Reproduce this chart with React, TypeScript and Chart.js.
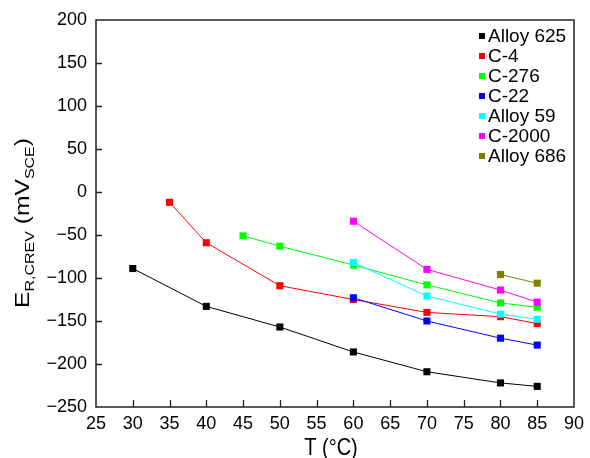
import React, { useEffect, useRef } from "react";
import { Chart, registerables } from "chart.js";

Chart.register(...registerables);

const FONT = "'Liberation Sans', Arial, Helvetica, sans-serif";

// Series (temperature in °C, E_R,CREV in mV_SCE)
const seriesNames = ["Alloy 625", "C-4", "C-276", "C-22", "Alloy 59", "C-2000", "Alloy 686"];
const seriesColors = ["#000000", "#ff0000", "#00ff00", "#0000ff", "#00ffff", "#ff00ff", "#808000"];

const tAlloy625 = [30, 40, 50, 60, 70, 80, 85];
const eAlloy625 = [-89, -133, -157, -186, -209, -222, -226];

const tC4 = [35, 40, 50, 60, 70, 80, 85];
const eC4 = [-12, -59, -109, -125, -140, -145, -153];

const tC276 = [45, 50, 60, 70, 80, 85];
const eC276 = [-51, -63, -85, -108, -129, -134];

const tC22 = [60, 70, 80, 85];
const eC22 = [-123, -150, -170, -178];

const tAlloy59 = [60, 70, 80, 85];
const eAlloy59 = [-82, -121, -142, -148];

const tC2000 = [60, 70, 80, 85];
const eC2000 = [-34, -90, -114, -128];

const tAlloy686 = [80, 85];
const eAlloy686 = [-96, -106];

const seriesT = [tAlloy625, tC4, tC276, tC22, tAlloy59, tC2000, tAlloy686];
const seriesE = [eAlloy625, eC4, eC276, eC22, eAlloy59, eC2000, eAlloy686];

const xMin = 25, xMax = 90, xStep = 5;
const yMin = -250, yMax = 200, yStep = 50;

const AXIS_COLOR = "#222222";

const framePlugin = {
  id: "frameAndTitles",
  afterDraw(chart: any) {
    const { ctx, chartArea } = chart;
    const { left, right, top, bottom } = chartArea;
    const xs = chart.scales.x;
    const ys = chart.scales.y;
    ctx.save();
    // frame
    ctx.strokeStyle = AXIS_COLOR;
    ctx.lineWidth = 1.5;
    ctx.strokeRect(left, top, right - left, bottom - top);
    // inward ticks
    ctx.lineWidth = 1.3;
    ctx.beginPath();
    for (let v = xMin + xStep; v < xMax; v += xStep) {
      const px = Math.round(xs.getPixelForValue(v)) + 0.5;
      ctx.moveTo(px, bottom);
      ctx.lineTo(px, bottom - 7);
    }
    for (let v = yMin + yStep; v < yMax; v += yStep) {
      const py = Math.round(ys.getPixelForValue(v)) + 0.5;
      ctx.moveTo(left, py);
      ctx.lineTo(left + 6, py);
    }
    ctx.stroke();

    // legend (inside, top-right)
    ctx.textBaseline = "middle";
    ctx.textAlign = "left";
    ctx.font = `19px ${FONT}`;
    seriesNames.forEach((name, i) => {
      const cy = 36 + i * 20;
      ctx.fillStyle = seriesColors[i];
      ctx.fillRect(479, cy - 3, 6, 6);
      ctx.fillStyle = "#000";
      ctx.fillText(name, 488, cy + 1);
    });

    // x title
    ctx.save();
    ctx.font = `20px ${FONT}`;
    ctx.textAlign = "center";
    ctx.textBaseline = "alphabetic";
    ctx.translate((left + right) / 2 - 4, 455);
    ctx.scale(1, 1.2);
    ctx.fillStyle = "#000";
    ctx.fillText("T (°C)", 0, 0);
    ctx.restore();

    // y title with subscripts
    ctx.save();
    const mainF = `20px ${FONT}`;
    const subF = `13px ${FONT}`;
    const parts: [string, boolean][] = [
      ["E", false],
      ["R,CREV", true],
      [" (mV", false],
      ["SCE", true],
      [")", false],
    ];
    let total = 0;
    const widths = parts.map(([s, sub]) => {
      ctx.font = sub ? subF : mainF;
      const w = ctx.measureText(s).width;
      total += w;
      return w;
    });
    const targetLen = 170;
    const sx = targetLen / total;
    ctx.translate(28.5, 223);
    ctx.rotate(-Math.PI / 2);
    ctx.scale(sx, 1);
    ctx.textAlign = "left";
    ctx.textBaseline = "alphabetic";
    ctx.fillStyle = "#000";
    let x = -total / 2;
    parts.forEach(([s, sub], i) => {
      ctx.font = sub ? subF : mainF;
      ctx.fillText(s, x, sub ? 5 : 0);
      x += widths[i];
    });
    ctx.restore();

    ctx.restore();
  },
};

export default function App() {
  const ref = useRef<HTMLCanvasElement>(null);
  useEffect(() => {
    const datasets = seriesNames.map((name, i) => ({
      label: name,
      data: seriesT[i].map((t, j) => ({ x: t, y: seriesE[i][j] })),
      borderColor: seriesColors[i],
      backgroundColor: seriesColors[i],
      borderWidth: 1,
      pointStyle: "rect" as const,
      pointRadius: 5,
      pointBorderWidth: 0,
      pointBackgroundColor: seriesColors[i],
      tension: 0,
      order: seriesNames.length - i,
    }));
    const chart = new Chart(ref.current!, {
      type: "line",
      data: { datasets },
      options: {
        responsive: false,
        animation: false,
        devicePixelRatio: 1,
        layout: { padding: { top: 20, right: 13, left: 0, bottom: 0 } },
        plugins: { legend: { display: false }, tooltip: { enabled: false } },
        scales: {
          x: {
            type: "linear",
            min: xMin,
            max: xMax,
            ticks: {
              stepSize: xStep,
              color: "#000",
              font: { family: FONT, size: 18 },
              padding: 6,
              maxRotation: 0,
            },
            grid: { display: false, drawTicks: false },
            border: { display: false },
            afterFit: (s: any) => {
              s.height = 51;
            },
          },
          y: {
            type: "linear",
            min: yMin,
            max: yMax,
            ticks: {
              stepSize: yStep,
              color: "#000",
              font: { family: FONT, size: 18 },
              padding: 9,
              callback: (v: any) => (Number(v) < 0 ? "\u2212" + Math.abs(Number(v)) : String(v)),
            },
            grid: { display: false, drawTicks: false },
            border: { display: false },
            afterFit: (s: any) => {
              s.width = 96;
            },
          },
        },
      },
      plugins: [framePlugin],
    });
    return () => chart.destroy();
  }, []);
  return (
    <div style={{ position: "absolute", left: 0, top: 0, width: 590, height: 458 }}>
      <canvas ref={ref} width={590} height={458} style={{ display: "block", width: 590, height: 458 }} />
    </div>
  );
}
